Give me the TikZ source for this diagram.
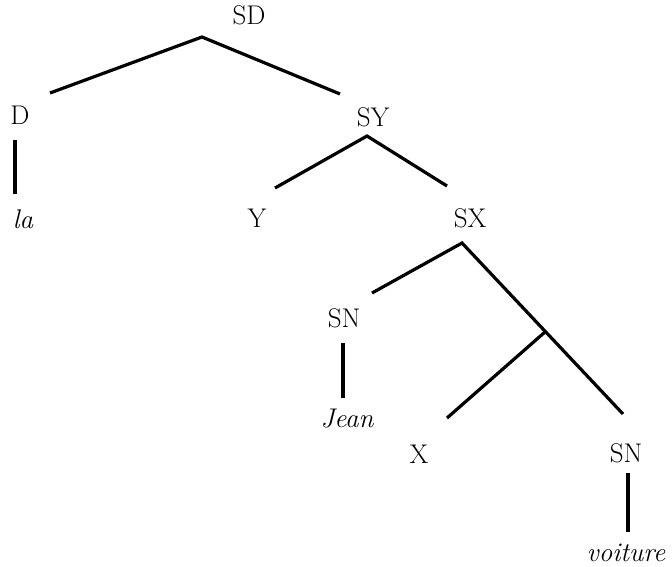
\documentclass[tikz,border=0pt]{standalone}
\usepackage{fontspec}
\setmainfont{Latin Modern Roman}
\begin{document}
\begin{tikzpicture}[x=1pt,y=-1pt,
  lab/.style={font=\fontsize{27}{32}\selectfont, inner sep=0pt, anchor=base},
  ilab/.style={lab, font=\fontsize{27}{32}\selectfont\itshape},
  branch/.style={line width=3.2pt}]
\useasboundingbox (0,0) rectangle (672,567);
% labels
\node[lab] (SD) at (249,25) {SD};
\node[lab] (D) at (20,125) {D};
\node[ilab] (la) at (23,228) {la};
\node[lab] (SY) at (373,127) {SY};
\node[lab] (Y) at (257,227) {Y};
\node[lab] (SX) at (470,227) {SX};
\node[lab] (SNa) at (344,327) {SN};
\node[ilab] (Jean) at (347,427) {Jean};
\node[lab] (X) at (419,463) {X};
\node[lab] (SNb) at (626,462) {SN};
\node[ilab] (voiture) at (626,561) {voiture};
% connector end points
\coordinate (sdtop) at (202,37);
\coordinate (sdl) at (50,93);
\coordinate (sdr) at (340,94);
\coordinate (dtop) at (15,140);
\coordinate (dbot) at (15,194);
\coordinate (sytop) at (367,136);
\coordinate (syl) at (275,188);
\coordinate (syr) at (447,186);
\coordinate (sxtop) at (462,243);
\coordinate (sxl) at (372,293);
\coordinate (sxr) at (623,414);
\coordinate (xbar) at (545,332);
\coordinate (xend) at (447,418);
\coordinate (snatop) at (343,343);
\coordinate (snabot) at (343,398);
\coordinate (snbtop) at (628,473);
\coordinate (snbbot) at (628,532);
% connectors
\draw[branch] (sdl) -- (sdtop) -- (sdr);
\draw[branch] (dtop) -- (dbot);
\draw[branch] (syl) -- (sytop) -- (syr);
\draw[branch] (sxl) -- (sxtop) -- (sxr);
\draw[branch] (xbar) -- (xend);
\draw[branch] (snatop) -- (snabot);
\draw[branch] (snbtop) -- (snbbot);
\end{tikzpicture}
\end{document}
